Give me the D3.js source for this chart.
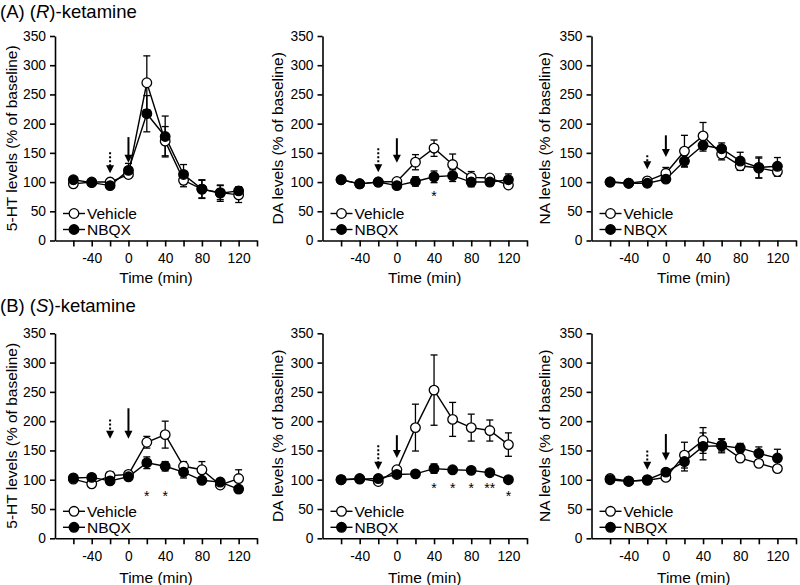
<!DOCTYPE html>
<html><head><meta charset="utf-8">
<script src="https://cdn.jsdelivr.net/npm/d3@7"></script>
<style>
body{margin:0;background:#fff}
svg{display:block}
text{font-family:"Liberation Sans",Arial,Helvetica,sans-serif;fill:#000}
</style>
</head><body>
<svg id="chart" width="800" height="585"></svg>
<script>
// ---------------- DATA ----------------
const times = [-60, -40, -20, 0, 20, 40, 60, 80, 100, 120];
const xTicks = [-60, -40, -20, 0, 20, 40, 60, 80, 100, 120, 140];
const xTickLabels = [-40, 0, 40, 80, 120];
const yTicks = [0, 50, 100, 150, 200, 250, 300, 350];
const seriesNames = ["Vehicle", "NBQX"];
const rowTitles = [["(A) (", "R", ")-ketamine"], ["(B) (", "S", ")-ketamine"]];
const yLabels = ["5-HT levels (% of baseline)", "DA levels (% of baseline)", "NA levels (% of baseline)"];
const xLabel = "Time (min)";

// (R)-ketamine
const htR_veh      = [97, 100, 100, 113, 270, 170, 103, 88, 82, 78];
const htR_veh_err  = [6, 4, 4, 6, 46, 25, 11, 15, 12, 13];
const htR_nbqx     = [104, 99, 94, 120, 217, 178, 113, 88, 81, 85];
const htR_nbqx_err = [4, 4, 4, 12, 31, 35, 17, 16, 14, 7];

const daR_veh      = [104, 97, 100, 101, 134, 158, 130, 108, 107, 95];
const daR_veh_err  = [4, 4, 4, 4, 13, 14, 18, 10, 5, 5];
const daR_nbqx     = [104, 97, 100, 94, 101, 109, 111, 100, 100, 104];
const daR_nbqx_err = [4, 4, 4, 4, 8, 10, 10, 8, 6, 10];

const naR_veh      = [100, 98, 102, 115, 153, 179, 148, 128, 124, 118];
const naR_veh_err  = [4, 4, 4, 10, 27, 23, 10, 8, 17, 8];
const naR_nbqx     = [100, 98, 98, 105, 136, 163, 157, 136, 125, 127];
const naR_nbqx_err = [4, 4, 4, 5, 10, 10, 10, 15, 18, 15];

// (S)-ketamine
const htS_veh      = [101, 93, 107, 109, 164, 177, 123, 117, 91, 102];
const htS_veh_err  = [4, 4, 6, 5, 10, 23, 8, 14, 5, 15];
const htS_nbqx     = [103, 104, 98, 105, 129, 123, 113, 99, 96, 84];
const htS_nbqx_err = [4, 4, 4, 4, 10, 8, 10, 5, 5, 6];

const daS_veh      = [100, 102, 97, 117, 189, 253, 203, 189, 184, 160];
const daS_veh_err  = [4, 4, 4, 5, 40, 60, 29, 23, 18, 20];
const daS_nbqx     = [100, 101, 102, 109, 110, 119, 117, 116, 112, 100];
const daS_nbqx_err = [4, 4, 4, 4, 5, 8, 5, 5, 5, 4];

const naS_veh      = [102, 98, 99, 104, 142, 167, 159, 137, 128, 119];
const naS_veh_err  = [4, 4, 4, 5, 22, 22, 10, 5, 5, 5];
const naS_nbqx     = [100, 97, 100, 113, 131, 157, 158, 154, 145, 137];
const naS_nbqx_err = [4, 4, 4, 5, 16, 23, 12, 8, 11, 15];

// significance marks: time, level (% units, glyph centre), text
const starsDaR = [[40, 81, "*"]];
const starsHtS = [[20, 77, "*"], [40, 77, "*"]];
const starsDaS = [[40, 91, "*"], [60, 91, "*"], [80, 91, "*"], [100, 91, "**"], [120, 78, "*"]];

// arrows: time, from (% units), to (% units)
const arrowsDotted = [[-20, 151, 115], [-20, 158, 117], [-20, 146, 122], [-20, 203, 170], [-20, 159, 117], [-20, 150, 117]];
const arrowsSolid  = [[0, 177, 133], [0, 175, 133], [0, 180, 143], [0, 222, 170], [0, 176, 137], [0, 178, 133]];

// ---------------- LAYOUT ----------------
const cols = [{x0: 55, x1: 257, lab: 38.5}, {x0: 322.5, x1: 527, lab: 39.5}, {x0: 591.5, x1: 796, lab: 42}];
const rows = [{y0: 240.5, y1: 36, title: 18, xl: 42}, {y0: 538.3, y1: 333.3, title: 312, xl: 45}];

const panels = [
  {r: 0, c: 0, veh: htR_veh, vehE: htR_veh_err, nb: htR_nbqx, nbE: htR_nbqx_err, stars: []},
  {r: 0, c: 1, veh: daR_veh, vehE: daR_veh_err, nb: daR_nbqx, nbE: daR_nbqx_err, stars: starsDaR},
  {r: 0, c: 2, veh: naR_veh, vehE: naR_veh_err, nb: naR_nbqx, nbE: naR_nbqx_err, stars: []},
  {r: 1, c: 0, veh: htS_veh, vehE: htS_veh_err, nb: htS_nbqx, nbE: htS_nbqx_err, stars: starsHtS},
  {r: 1, c: 1, veh: daS_veh, vehE: daS_veh_err, nb: daS_nbqx, nbE: daS_nbqx_err, stars: starsDaS},
  {r: 1, c: 2, veh: naS_veh, vehE: naS_veh_err, nb: naS_nbqx, nbE: naS_nbqx_err, stars: []}
];

const svg = d3.select("#chart");
const FONT = "Liberation Sans, Arial, sans-serif";

// row titles
rows.forEach((row, i) => {
  const t = svg.append("text").attr("x", 0).attr("y", row.title).attr("font-size", 18.5);
  t.append("tspan").text(rowTitles[i][0]);
  t.append("tspan").attr("font-style", "italic").text(rowTitles[i][1]);
  t.append("tspan").text(rowTitles[i][2]);
});

panels.forEach((p, pi) => {
  const col = cols[p.c], row = rows[p.r];
  const x = d3.scaleLinear().domain([-80, 140]).range([col.x0, col.x1]);
  const y = d3.scaleLinear().domain([0, 350]).range([row.y0, row.y1]);
  const g = svg.append("g");

  // axes
  const ya = g.append("g").attr("transform", `translate(${col.x0},0)`)
    .call(d3.axisLeft(y).tickValues(yTicks).tickSize(5).tickSizeOuter(0).tickPadding(4).tickFormat(d => String(d)));
  const xa = g.append("g").attr("transform", `translate(0,${row.y0})`)
    .call(d3.axisBottom(x).tickValues(xTicks).tickSize(6).tickSizeOuter(0).tickPadding(7)
      .tickFormat(d => xTickLabels.includes(d) ? String(d) : ""));
  [ya, xa].forEach(a => {
    a.selectAll("path,line").attr("stroke", "#000").attr("stroke-width", 1.6);
    a.selectAll("text").attr("font-size", 13.8).attr("font-family", FONT).attr("fill", "#000");
  });

  // axis labels
  g.append("text")
    .attr("transform", `translate(${col.x0 - col.lab},${(row.y0 + row.y1) / 2}) rotate(-90)`)
    .attr("text-anchor", "middle").attr("font-size", 15.5).text(yLabels[p.c]);
  g.append("text").attr("x", (col.x0 + col.x1) / 2).attr("y", row.y0 + row.xl)
    .attr("text-anchor", "middle").attr("font-size", 15.5).text(xLabel);

  // arrows
  const drawArrow = (a, dotted) => {
    const ax = x(a[0]), yTop = y(a[1]), yTip = y(a[2]);
    const head = 8;
    g.append("line").attr("x1", ax).attr("x2", ax).attr("y1", yTop).attr("y2", yTip - head + 1)
      .attr("stroke", "#000").attr("stroke-width", 2)
      .attr("stroke-dasharray", dotted ? "2,2" : null);
    g.append("path").attr("d", `M${ax - 4},${yTip - head}L${ax + 4},${yTip - head}L${ax},${yTip}Z`).attr("fill", "#000");
  };
  drawArrow(arrowsDotted[pi], true);
  drawArrow(arrowsSolid[pi], false);

  const line = d3.line().x((d, i) => x(times[i])).y(d => y(d));
  const series = [
    {v: p.veh, e: p.vehE, fill: "#fff"},
    {v: p.nb, e: p.nbE, fill: "#000"}
  ];
  // error bars
  series.forEach(s => {
    const eb = g.append("g");
    s.v.forEach((v, i) => {
      const xx = x(times[i]);
      const hi = y(v + s.e[i]), lo = y(v - s.e[i]);
      eb.append("line").attr("x1", xx).attr("x2", xx).attr("y1", hi).attr("y2", lo).attr("stroke", "#000").attr("stroke-width", 1.3);
      [hi, lo].forEach(yy => eb.append("line").attr("x1", xx - 3.5).attr("x2", xx + 3.5).attr("y1", yy).attr("y2", yy)
        .attr("stroke", "#000").attr("stroke-width", 1.3));
    });
  });
  // lines + markers
  series.forEach(s => {
    g.append("path").datum(s.v).attr("d", line).attr("fill", "none").attr("stroke", "#000").attr("stroke-width", 1.4);
  });
  series.forEach(s => {
    g.append("g").selectAll("circle").data(s.v).join("circle")
      .attr("cx", (d, i) => x(times[i])).attr("cy", d => y(d)).attr("r", 4.8)
      .attr("fill", s.fill).attr("stroke", "#000").attr("stroke-width", 1.3);
  });

  // stars
  p.stars.forEach(st => {
    g.append("text").attr("x", x(st[0])).attr("y", y(st[1]) + 8).attr("text-anchor", "middle")
      .attr("font-size", 14).text(st[2]);
  });

  // legend
  seriesNames.forEach((name, k) => {
    const ly = row.y0 - 27 + k * 16;
    const lx = col.x0;
    g.append("line").attr("x1", lx + 8).attr("x2", lx + 30).attr("y1", ly).attr("y2", ly)
      .attr("stroke", "#000").attr("stroke-width", 1.4);
    g.append("circle").attr("cx", lx + 19).attr("cy", ly).attr("r", 4.8)
      .attr("fill", k === 0 ? "#fff" : "#000").attr("stroke", "#000").attr("stroke-width", 1.3);
    g.append("text").attr("x", lx + 32).attr("y", ly).attr("dy", "0.35em").attr("font-size", 15.5).text(name);
  });
});
</script>
</body></html>
